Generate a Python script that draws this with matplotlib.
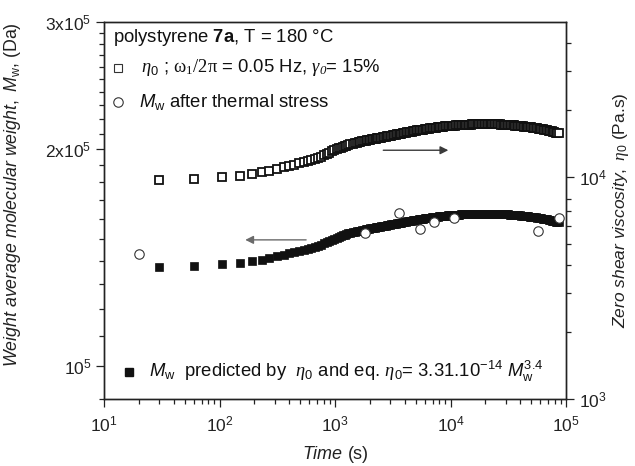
import numpy as np
import matplotlib
matplotlib.use("Agg")
import matplotlib.pyplot as plt
from matplotlib.ticker import FixedLocator, FixedFormatter, NullFormatter

plt.rcParams.update({
    "font.family": ["Liberation Sans", "DejaVu Sans"],
    "mathtext.fontset": "custom",
    "mathtext.rm": "Liberation Sans",
    "mathtext.it": "Liberation Sans:italic",
    "mathtext.bf": "Liberation Sans:bold",
    "mathtext.sf": "Liberation Serif:italic",
    "mathtext.tt": "Liberation Serif",
    "mathtext.default": "rm",
})

# Zero-shear viscosity during the oscillatory test: time (s) and eta0 (Pa.s)
time_early = [30, 60, 105, 150, 190, 235, 270, 315, 360, 400,
              445, 490, 535, 580, 625, 670, 715, 760, 805, 850, 895, 940, 985,
              1030, 1075, 1120, 1165, 1210, 1255, 1300,
              1360, 1420, 1480, 1540, 1600, 1660, 1720, 1780, 1840, 1900, 1960,
              2020, 2080, 2140, 2200, 2260, 2320]
eta_early = [9695, 9796, 10000, 10156, 10315, 10497, 10694, 10917, 11088, 11232,
             11387, 11527, 11659, 11782, 11913, 12064, 12206, 12362, 12552, 12731,
             12901, 13055, 13199, 13336, 13468, 13588, 13685, 13780, 13870, 13957,
             14066, 14140, 14211, 14279, 14345, 14408, 14468, 14526, 14580, 14632,
             14683, 14732, 14780, 14826, 14871, 14914, 14957]

time_mid = [2370, 2440, 2510, 2590, 2660, 2740, 2820, 2900, 2990, 3070,
            3160, 3250, 3350, 3450, 3550, 3650, 3760, 3870, 3980, 4100,
            4220, 4340, 4470, 4600, 4730, 4870, 5010, 5160, 5310, 5460,
            5620, 5790, 5960, 6130, 6310, 6490, 6680, 6880, 7080, 7290,
            7500, 7720, 7940, 8180, 8410, 8660, 8910, 9170, 9440, 9720]
eta_mid = [14990, 15034, 15078, 15121, 15165, 15209, 15252, 15296, 15340, 15385,
           15431, 15477, 15523, 15569, 15615, 15661, 15708, 15756, 15803, 15851,
           15898, 15946, 15993, 16041, 16088, 16136, 16180, 16221, 16262, 16302,
           16343, 16384, 16424, 16465, 16506, 16546, 16587, 16620, 16654, 16687,
           16720, 16754, 16787, 16821, 16854, 16887, 16921, 16947, 16968, 16989]

time_late = [10000, 10300, 10600, 10900, 11200, 11500, 11900, 12200, 12600, 13000,
             13300, 13700, 14100, 14500, 15000, 15400, 15800, 16300, 16800, 17300,
             17800, 18300, 18800, 19400, 20000, 20500, 21100, 21800, 22400, 23000,
             23700, 24400, 25100, 25900, 26600, 27400, 28200, 29000, 29900, 30700,
             31600, 32500, 33500, 34500, 35500, 36500, 37600, 38700, 39800, 41000,
             42200, 43400, 44700, 46000, 47300, 48700, 50100, 51600, 53100, 54600,
             56200, 57900, 59600, 61300, 63100, 64900, 66800, 68800, 70800, 72900,
             75000, 77200, 79400, 81800, 84100, 86600]
eta_late = [17010, 17031, 17052, 17074, 17095, 17116, 17137, 17158, 17179, 17199,
            17210, 17221, 17231, 17242, 17252, 17263, 17274, 17284, 17295, 17306,
            17316, 17322, 17319, 17316, 17313, 17310, 17307, 17304, 17301, 17298,
            17295, 17292, 17289, 17279, 17262, 17245, 17228, 17210, 17193, 17176,
            17159, 17142, 17125, 17108, 17090, 17073, 17043, 17012, 16982, 16952,
            16922, 16892, 16861, 16831, 16801, 16771, 16734, 16692, 16651, 16610,
            16569, 16527, 16486, 16445, 16404, 16362, 16315, 16250, 16186, 16121,
            16056, 15991, 15926, 15861, 15796, 15731]

time_s = np.array(time_early + time_mid + time_late, float)
eta0 = np.array(eta_early + eta_mid + eta_late, float)

# eta0 = K * Mw^a  (relation quoted in the legend)
K_coef = 3.31e-14
a_exp = 3.4
mw_pred = (eta0 / K_coef) ** (1.0 / a_exp)

# Mw measured after thermal stress
thermal_time = [20, 1800, 3600, 5400, 7200, 10800, 57600, 86400]
thermal_mw = [142900, 153000, 163200, 154900, 158500, 160300, 154000, 160300]

# axis ticks
x_ticks = [1e1, 1e2, 1e3, 1e4, 1e5]
x_labels = ["10$^1$", "10$^2$", "10$^3$", "10$^4$", "10$^5$"]
left_ticks = [1e5, 2e5, 3e5]
left_labels = ["10$^5$", "2x10$^5$", "3x10$^5$"]
right_ticks = [1e3, 1e4]
right_labels = ["10$^3$", "10$^4$"]

INK = "#111111"
fig = plt.figure(figsize=(6.35, 4.66), dpi=100)
ax = fig.add_axes([0.1638, 0.1438, 0.7276, 0.8090])
ax2 = ax.twinx()

ax.set_xscale("log")
ax.set_yscale("log")
ax2.set_yscale("log")
ax.set_xlim(1e1, 1e5)
ax.set_ylim(0.9e5, 3e5)
ax2.set_ylim(1e3, 5e4)

# predicted Mw (filled squares, left axis)
ax.plot(time_s, mw_pred, linestyle="none", marker="s", ms=6.3,
        mfc=INK, mec=INK, mew=0.5, zorder=3, snap=False)
# thermal stress (open circles, left axis)
ax.plot(thermal_time, thermal_mw, linestyle="none", marker="o", ms=6.8,
        mfc="white", mec="#333333", mew=0.8, zorder=4)
# viscosity (open squares, right axis)
ax2.plot(time_s, eta0, linestyle="none", marker="s", ms=6.0,
         mfc="white", mec=INK, mew=1.3, zorder=3, snap=False)

# arrows showing which axis each curve belongs to
ax2.annotate("", xy=(9570, 13214), xytext=(2617, 13214),
             arrowprops=dict(arrowstyle="-|>", color="#3a3a3a", lw=1.0,
                             mutation_scale=12, shrinkA=0, shrinkB=0))
ax.annotate("", xy=(167, 149600), xytext=(562, 149600),
            arrowprops=dict(arrowstyle="-|>", color="#6a6a6a", lw=1.0,
                            mutation_scale=12, shrinkA=0, shrinkB=0))

# ticks
ax.xaxis.set_major_locator(FixedLocator(x_ticks))
ax.xaxis.set_major_formatter(FixedFormatter(x_labels))
ax.xaxis.set_minor_locator(FixedLocator(
    [m * 10 ** e for e in range(1, 5) for m in range(2, 10)]))
ax.xaxis.set_minor_formatter(NullFormatter())

ax.yaxis.set_major_locator(FixedLocator(left_ticks))
ax.yaxis.set_major_formatter(FixedFormatter(left_labels))
ax.yaxis.set_minor_locator(FixedLocator(
    [k * 1e4 for k in range(9, 30) if k not in (10, 20)]))
ax.yaxis.set_minor_formatter(NullFormatter())

ax2.yaxis.set_major_locator(FixedLocator(right_ticks))
ax2.yaxis.set_major_formatter(FixedFormatter(right_labels))
ax2.yaxis.set_minor_locator(FixedLocator(
    [k * 1e3 for k in range(2, 9)] + [k * 1e4 for k in range(2, 5)]))
ax2.yaxis.set_minor_formatter(NullFormatter())

for a in (ax, ax2):
    a.tick_params(which="major", direction="out", length=6, width=0.9,
                  labelsize=12.5, color="#222222", labelcolor="#222222")
    a.tick_params(which="minor", direction="out", length=3.5, width=0.9,
                  color="#222222")
    for s in a.spines.values():
        s.set_linewidth(1.0)
        s.set_color("#222222")
ax.tick_params(axis="x", pad=5)
ax.tick_params(axis="y", pad=3)
ax2.tick_params(axis="y", pad=3)

ax.set_xlabel(r"$\mathit{Time}$ (s)", fontsize=13, color="#222222")
ax.xaxis.label.set_va("center")
ax.xaxis.set_label_coords(0.5, -0.146)
ax.set_ylabel(r"$\mathit{Weight\ average\ molecular\ weight,\ M}_\mathrm{w}$, (Da)",
              fontsize=12.8, color="#222222")
ax.yaxis.set_label_coords(-0.175, 0.541)
ax2.set_ylabel(r"$\mathit{Zero\ shear\ viscosity,}\ \mathsf{\eta}_0$ (Pa.s)",
               fontsize=12.5, color="#222222", rotation=90)
ax2.yaxis.set_label_coords(1.097, 0.5)

# legend block
tr = ax.transAxes
txt = dict(transform=tr, fontsize=13.3, color=INK, va="center", ha="left")
ax.text(0.0195, 0.960, r"polystyrene $\mathbf{7a}$, T = 180 °C", **txt)
ax.plot([0.0303], [0.878], transform=tr, marker="s", ms=6.0, mfc="white",
        mec="#333333", mew=0.8, clip_on=False)
ax.text(0.080, 0.878,
        r"$\mathsf{\eta}_0$ ; $\mathtt{\omega_1/2\pi}$ = 0.05 Hz, $\mathsf{\gamma_0}$= 15%",
        **txt)
ax.plot([0.0303], [0.788], transform=tr, marker="o", ms=6.8, mfc="white",
        mec="#333333", mew=0.8, clip_on=False)
ax.text(0.0758, 0.788, r"$\mathit{M}_\mathrm{w}$ after thermal stress", **txt)
ax.plot([0.054], [0.072], transform=tr, marker="s", ms=6.3, mfc=INK,
        mec=INK, clip_on=False)
ax.text(0.097, 0.072,
        r"$\mathit{M}_\mathrm{w}$  predicted by  $\mathsf{\eta}_0$ and eq. "
        r"$\mathsf{\eta}_0$= 3.31.10$^{-14}$ $\mathit{M}_\mathrm{w}^{3.4}$",
        **txt)

fig.savefig("out.png", dpi=100)
